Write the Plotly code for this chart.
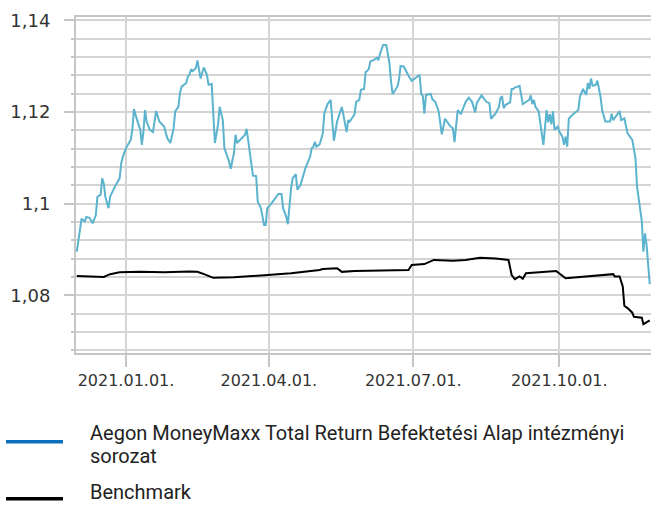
import plotly.graph_objects as go

fund_dates = [
    "2020-12-01", "2020-12-04", "2020-12-06", "2020-12-07", "2020-12-09", "2020-12-11", "2020-12-13",
    "2020-12-14", "2020-12-16", "2020-12-17", "2020-12-18", "2020-12-19", "2020-12-21", "2020-12-22",
    "2020-12-25", "2020-12-28", "2020-12-29", "2020-12-30", "2021-01-01", "2021-01-04", "2021-01-05",
    "2021-01-06", "2021-01-08", "2021-01-10", "2021-01-11", "2021-01-12", "2021-01-13", "2021-01-14",
    "2021-01-16", "2021-01-18", "2021-01-19", "2021-01-20", "2021-01-22", "2021-01-25", "2021-01-27",
    "2021-01-29", "2021-01-31", "2021-02-01", "2021-02-03", "2021-02-04", "2021-02-05", "2021-02-08",
    "2021-02-09", "2021-02-10", "2021-02-11", "2021-02-12", "2021-02-14", "2021-02-15", "2021-02-17",
    "2021-02-19", "2021-02-21", "2021-02-22", "2021-02-24", "2021-02-25", "2021-02-26", "2021-02-28",
    "2021-03-01", "2021-03-03", "2021-03-04", "2021-03-07", "2021-03-08", "2021-03-10", "2021-03-11",
    "2021-03-12", "2021-03-15", "2021-03-17", "2021-03-18", "2021-03-20", "2021-03-22", "2021-03-24",
    "2021-03-25", "2021-03-27", "2021-03-28", "2021-03-29", "2021-03-30", "2021-03-31", "2021-04-02",
    "2021-04-05", "2021-04-07", "2021-04-09", "2021-04-10", "2021-04-12", "2021-04-13", "2021-04-15",
    "2021-04-16", "2021-04-18", "2021-04-19", "2021-04-21", "2021-04-24", "2021-04-27", "2021-04-28",
    "2021-04-29", "2021-04-30", "2021-05-01", "2021-05-03", "2021-05-05", "2021-05-06", "2021-05-08",
    "2021-05-10", "2021-05-11", "2021-05-12", "2021-05-14", "2021-05-16", "2021-05-17", "2021-05-18",
    "2021-05-20", "2021-05-21", "2021-05-22", "2021-05-25", "2021-05-26", "2021-05-28", "2021-05-29",
    "2021-05-31", "2021-06-01", "2021-06-02", "2021-06-03", "2021-06-04", "2021-06-06", "2021-06-08",
    "2021-06-09", "2021-06-10", "2021-06-12", "2021-06-14", "2021-06-15", "2021-06-16", "2021-06-17",
    "2021-06-18", "2021-06-21", "2021-06-22", "2021-06-23", "2021-06-25", "2021-06-28", "2021-06-30",
    "2021-07-02", "2021-07-05", "2021-07-06", "2021-07-07", "2021-07-08", "2021-07-09", "2021-07-12",
    "2021-07-13", "2021-07-15", "2021-07-17", "2021-07-19", "2021-07-21", "2021-07-24", "2021-07-26",
    "2021-07-27", "2021-07-29", "2021-07-31", "2021-08-01", "2021-08-03", "2021-08-05", "2021-08-07",
    "2021-08-09", "2021-08-10", "2021-08-13", "2021-08-16", "2021-08-18", "2021-08-19", "2021-08-22",
    "2021-08-24", "2021-08-25", "2021-08-26", "2021-08-27", "2021-08-28", "2021-08-31", "2021-09-01",
    "2021-09-02", "2021-09-03", "2021-09-06", "2021-09-08", "2021-09-12", "2021-09-13", "2021-09-14",
    "2021-09-15", "2021-09-16", "2021-09-18", "2021-09-21", "2021-09-23", "2021-09-24", "2021-09-25",
    "2021-09-26", "2021-09-27", "2021-09-28", "2021-09-30", "2021-10-01", "2021-10-03", "2021-10-04",
    "2021-10-05", "2021-10-06", "2021-10-07", "2021-10-09", "2021-10-11", "2021-10-13", "2021-10-14",
    "2021-10-16", "2021-10-18", "2021-10-19", "2021-10-20", "2021-10-21", "2021-10-22", "2021-10-24",
    "2021-10-25", "2021-10-27", "2021-10-28", "2021-10-30", "2021-11-02", "2021-11-03", "2021-11-04",
    "2021-11-06", "2021-11-08", "2021-11-09", "2021-11-11", "2021-11-13", "2021-11-15", "2021-11-16",
    "2021-11-18", "2021-11-19", "2021-11-22", "2021-11-23", "2021-11-24", "2021-11-25", "2021-11-27",
]
fund_values = [
    1.0895, 1.0967, 1.0961, 1.0971, 1.0969, 1.0957, 1.0975,
    1.1015, 1.1019, 1.1055, 1.1044, 1.1015, 1.0990, 1.1015,
    1.1037, 1.1055, 1.1088, 1.1102, 1.1121, 1.1139, 1.1161,
    1.1206, 1.1182, 1.1161, 1.1128, 1.1157, 1.1204, 1.1179,
    1.1161, 1.1156, 1.1179, 1.1202, 1.1179, 1.1168, 1.1143,
    1.1132, 1.1164, 1.1201, 1.1211, 1.1241, 1.1255, 1.1263,
    1.1277, 1.1281, 1.1293, 1.1289, 1.1295, 1.1312, 1.1273,
    1.1297, 1.1281, 1.1259, 1.1261, 1.1193, 1.1132, 1.1172,
    1.1211, 1.1182, 1.1121, 1.1091, 1.1076, 1.1110, 1.1150,
    1.1132, 1.1143, 1.1150, 1.1163, 1.1117, 1.1061, 1.1060,
    1.1004, 1.0990, 1.0975, 1.0953, 1.0953, 1.0990, 1.0997,
    1.1012, 1.1021, 1.1021, 1.0990, 1.0971, 1.0955, 1.1033,
    1.1055, 1.1064, 1.1030, 1.1041, 1.1077, 1.1102, 1.1121,
    1.1123, 1.1135, 1.1124, 1.1129, 1.1153, 1.1197, 1.1217,
    1.1226, 1.1179, 1.1137, 1.1179, 1.1201, 1.1211, 1.1193,
    1.1156, 1.1182, 1.1179, 1.1195, 1.1222, 1.1226, 1.1248,
    1.1250, 1.1287, 1.1289, 1.1294, 1.1310, 1.1313, 1.1318,
    1.1313, 1.1326, 1.1346, 1.1346, 1.1321, 1.1306, 1.1266,
    1.1239, 1.1255, 1.1270, 1.1300, 1.1299, 1.1279, 1.1268,
    1.1273, 1.1281, 1.1239, 1.1235, 1.1196, 1.1237, 1.1239,
    1.1228, 1.1221, 1.1201, 1.1151, 1.1185, 1.1170, 1.1164,
    1.1134, 1.1204, 1.1195, 1.1204, 1.1222, 1.1231, 1.1222,
    1.1199, 1.1219, 1.1236, 1.1222, 1.1219, 1.1185, 1.1197,
    1.1211, 1.1231, 1.1233, 1.1208, 1.1215, 1.1221, 1.1250,
    1.1250, 1.1253, 1.1257, 1.1217, 1.1226, 1.1236, 1.1217,
    1.1226, 1.1211, 1.1201, 1.1128, 1.1204, 1.1177, 1.1195,
    1.1173, 1.1201, 1.1161, 1.1168, 1.1157, 1.1146, 1.1128,
    1.1146, 1.1124, 1.1185, 1.1193, 1.1198, 1.1204, 1.1233,
    1.1250, 1.1237, 1.1263, 1.1250, 1.1273, 1.1257, 1.1259,
    1.1268, 1.1233, 1.1204, 1.1179, 1.1179, 1.1196, 1.1182,
    1.1193, 1.1202, 1.1182, 1.1186, 1.1153, 1.1143, 1.1139,
    1.1099, 1.1037, 1.0961, 1.0895, 1.0935, 1.0910, 1.0824,
]

bench_dates = [
    "2020-12-01", "2020-12-13", "2020-12-18", "2020-12-22", "2020-12-28", "2021-01-10", "2021-01-25",
    "2021-02-10", "2021-02-15", "2021-02-20", "2021-02-25", "2021-03-10", "2021-03-29", "2021-04-15",
    "2021-05-03", "2021-05-05", "2021-05-14", "2021-05-17", "2021-05-25", "2021-06-10", "2021-06-28",
    "2021-06-30", "2021-07-08", "2021-07-14", "2021-07-26", "2021-08-03", "2021-08-12", "2021-08-22",
    "2021-08-30", "2021-09-01", "2021-09-03", "2021-09-06", "2021-09-08", "2021-09-10", "2021-09-27",
    "2021-09-29", "2021-10-05", "2021-10-18", "2021-11-04", "2021-11-05", "2021-11-08", "2021-11-10",
    "2021-11-11", "2021-11-13", "2021-11-16", "2021-11-17", "2021-11-22", "2021-11-23", "2021-11-25",
    "2021-11-27",
]
bench_values = [
    1.0842, 1.0841, 1.0840, 1.0846, 1.0850, 1.0851, 1.0850,
    1.0852, 1.0851, 1.0845, 1.0838, 1.0839, 1.0843, 1.0848,
    1.0855, 1.0857, 1.0859, 1.0851, 1.0853, 1.0854, 1.0855,
    1.0866, 1.0868, 1.0877, 1.0875, 1.0877, 1.0882, 1.0880,
    1.0877, 1.0844, 1.0835, 1.0841, 1.0836, 1.0848, 1.0851,
    1.0853, 1.0837, 1.0841, 1.0846, 1.0841, 1.0841, 1.0819,
    1.0777, 1.0772, 1.0762, 1.0753, 1.0751, 1.0737, 1.0742,
    1.0745,
]

fund_name_lines = ["Aegon MoneyMaxx Total Return Befektetési Alap intézményi", "sorozat"]
bench_name = "Benchmark"

W, H = 651, 505
ML, MR, MT, MB = 76, 0, 17, 152
PW, PH = W - ML - MR, H - MT - MB


def px(x):
    return (x - ML) / PW


def py(y):
    return (H - MB - y) / PH


grid = "#d4d4d4"
axis_c = "#c6c6c6"
txt = "#333333"
legend_font = dict(family="Roboto", size=20, color="#222222")

fig = go.Figure()
fig.add_trace(go.Scatter(x=fund_dates, y=fund_values, mode="lines",
                         line=dict(color="#5bb3ce", width=2), name="fund", showlegend=False))
fig.add_trace(go.Scatter(x=bench_dates, y=bench_values, mode="lines",
                         line=dict(color="#000000", width=2), name="bench", showlegend=False))

fig.update_layout(
    width=W, height=H,
    margin=dict(l=ML, r=MR, t=MT, b=MB, pad=0),
    paper_bgcolor="white", plot_bgcolor="white",
    separators=", ",
    showlegend=False,
    xaxis=dict(
        type="date",
        range=["2020-11-30 12:00", "2021-11-27 19:00"],
        tick0="2021-01-01", dtick="M3", tickformat="%Y.%m.%d.",
        showgrid=True, gridcolor=grid, gridwidth=2,
        showline=True, linecolor=axis_c, linewidth=2, mirror=True,
        ticks="outside", ticklen=12, tickwidth=2, tickcolor=axis_c,
        tickfont=dict(family="DejaVu Sans", size=16, color=txt),
        zeroline=False, fixedrange=True, automargin=False,
    ),
    yaxis=dict(
        range=[1.0674, 1.1407],
        tickmode="linear", tick0=1.08, dtick=0.02, tickformat=".2~f",
        showgrid=True, gridcolor=grid, gridwidth=2,
        showline=True, linecolor=axis_c, linewidth=2,
        ticks="outside", ticklen=10, tickwidth=2, tickcolor=axis_c,
        ticklabelstandoff=10,
        tickfont=dict(family="DejaVu Sans", size=18, color=txt),
        minor=dict(dtick=0.004, tick0=1.08, showgrid=True, gridcolor=grid, gridwidth=2,
                   ticks="outside", ticklen=3, tickwidth=2, tickcolor=axis_c),
        zeroline=False, fixedrange=True, automargin=False,
    ),
)

# legend drawn below the plot
fig.add_shape(type="line", xref="paper", yref="paper",
              x0=px(6), x1=px(63), y0=py(441.7), y1=py(441.7),
              line=dict(color="#0a6fbd", width=3.5))
fig.add_shape(type="line", xref="paper", yref="paper",
              x0=px(6), x1=px(63), y0=py(498.8), y1=py(498.8),
              line=dict(color="#000000", width=3.5))
for text, yc in zip(fund_name_lines, [433, 456]):
    fig.add_annotation(xref="paper", yref="paper", x=px(88), y=py(yc), xanchor="left", yanchor="middle",
                       text=text, showarrow=False, align="left", font=legend_font)
fig.add_annotation(xref="paper", yref="paper", x=px(88), y=py(492), xanchor="left", yanchor="middle",
                   text=bench_name, showarrow=False, align="left", font=legend_font)

fig.write_html("out.html", config={"displayModeBar": False},
               post_script="document.body.style.margin='0';document.body.style.padding='0';")
